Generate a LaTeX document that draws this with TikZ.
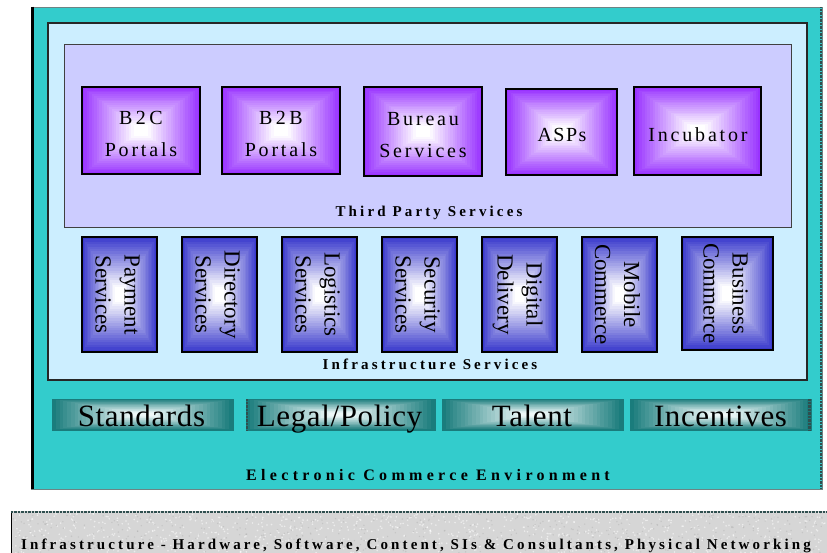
\documentclass[tikz,border=0pt]{standalone}
\usepackage{fontspec}
\setmainfont{Liberation Serif}
\newfontfamily\lsA[LetterSpace=14]{Liberation Serif}
\newfontfamily\lsB[LetterSpace=21]{Liberation Serif}
\newfontfamily\lsE[LetterSpace=20.8]{Liberation Serif}
\newfontfamily\lsC[LetterSpace=27]{Liberation Serif}
\newfontfamily\lsD[LetterSpace=2]{Liberation Serif}
\definecolor{tealbg}{HTML}{33CCCC}
\definecolor{skyb}{HTML}{CCEEFF}
\definecolor{lav}{HTML}{CCCCFF}
\definecolor{purp}{HTML}{9933FF}
\definecolor{blu}{HTML}{3A3ACC}
\definecolor{dteal}{HTML}{1A7C7C}
\definecolor{lteal}{HTML}{EEF8F8}
\definecolor{granite}{HTML}{D6D6D6}
\definecolor{edgegray}{HTML}{2F4F4F}
% #1 name, #2 x1, #3 y1, #4 x2, #5 y2, #6 edge colour, #7 centre colour, #8 style
\newcommand\gbox[8]{%
  \foreach \k in {0,...,23}{%
    \pgfmathsetmacro\ix{\k*(#4-#2)/48}%
    \pgfmathsetmacro\iy{\k*(#5-#3)/48}%
    \pgfmathtruncatemacro\pc{max(0,100-\k*100/21)}%
    \fill[#6!\pc!#7] ({#2+\ix},{#3+\iy}) rectangle ({#4-\ix},{#5-\iy});
  }%
  \pgfmathsetmacro\gw{#4-#2}%
  \pgfmathsetmacro\gh{#5-#3}%
  \node[#8, minimum width=\gw pt, minimum height=\gh pt] (#1) at ({(#2+#4)/2},{(#3+#5)/2}) {};
}
\tikzset{
  bx/.style={draw=black, line width=1.5pt, inner sep=0pt, outer sep=0pt, rectangle},
  tb/.style={draw=dteal, line width=0.6pt, inner sep=0pt, outer sep=0pt, rectangle},
  ptext/.style={font={\lsA\fontsize{20}{32}\selectfont}, align=center, inner sep=0pt},
  vtext/.style={font={\fontsize{23}{29}\selectfont}, align=center, rotate=-90, inner sep=0pt},
  ttext/.style={font={\lsD\fontsize{31}{31}\selectfont}, anchor=base, inner sep=0pt},
  btext/.style={font={\lsB\bfseries\fontsize{15}{15}\selectfont}, anchor=base, inner sep=0pt},
  dots/.style={line width=2.5pt, dash pattern=on 0.7pt off 0.7pt}
}
\begin{document}
\begin{tikzpicture}[x=1pt, y=-1pt]
\useasboundingbox (0,0) rectangle (827,553);
% outer environment
\node[draw=edgegray!70, fill=tealbg, line width=0.8pt, inner sep=0pt, minimum width=791pt, minimum height=482pt] (env) at (426.5,248) {};
\draw[black, line width=3pt] (env.north west) ++(1.5,0) -- ++(0,482);
\draw[edgegray, dots] (820.8,7.5) -- (820.8,489);
% infrastructure services panel
\node[draw=black!85, fill=skyb, line width=1.4pt, inner sep=0pt, minimum width=759pt, minimum height=357pt] (infra) at (427.5,201.5) {};
% third party panel
\node[draw=black!75, fill=lav, line width=1pt, inner sep=0pt, minimum width=727pt, minimum height=183pt] (third) at (427.5,136.5) {};
% third party boxes
\gbox{b2c}{82}{87}{200}{174}{purp}{white}{bx}
\gbox{b2b}{222}{87}{340}{174}{purp}{white}{bx}
\gbox{bur}{364}{87}{482}{176}{purp}{white}{bx}
\gbox{asp}{506}{89}{617}{175}{purp}{white}{bx}
\gbox{inc}{634}{87}{761}{175}{purp}{white}{bx}
\node[ptext] (b2ct) at (141,134.4) {B\kern3.5pt2\kern3.5ptC\\Portals};
\node[ptext] (b2bt) at (281,134.4) {B\kern3.5pt2\kern3.5ptB\\Portals};
\node[ptext] (burt) at (423,135.5) {Bureau\\Services};
\node[ptext, anchor=base] (aspt) at (562,141.5) {A\kern1.5ptS\kern1.5ptP\kern1.5pts};
\node[ptext, anchor=base] (inct) at (698,141.5) {Incubator};
\node[btext] (thirdl) at (429,216.5) {Third Party Services};
% infrastructure boxes
\gbox{pay}{82}{237}{157}{352}{blu}{white}{bx}
\gbox{dir}{182}{237}{257}{352}{blu}{white}{bx}
\gbox{log}{282}{237}{357}{352}{blu}{white}{bx}
\gbox{sec}{382}{237}{457}{352}{blu}{white}{bx}
\gbox{dig}{482}{237}{557}{352}{blu}{white}{bx}
\gbox{mob}{582}{237}{657}{352}{blu}{white}{bx}
\gbox{bus}{682}{237}{773}{350}{blu}{white}{bx}
\node[vtext] (payt) at (117.5,294.5) {Payment\\Services};
\node[vtext] (dirt) at (217.5,294.5) {Directory\\Services};
\node[vtext] (logt) at (317.5,294.5) {Logistics\\Services};
\node[vtext] (sect) at (417.5,294.5) {Security\\Services};
\node[vtext] (digt) at (517.5,294.5) {Digital\\Delivery};
\node[vtext] (mobt) at (617.5,294.5) {Mobile\\Commerce};
\node[vtext] (bust) at (725.5,293.5) {Business\\Commerce};
\node[btext] (infral) at (430,369) {Infrastructure Services};
% environment factors
\gbox{std}{52}{399}{233}{430}{dteal}{lteal}{tb}
\gbox{leg}{246}{399}{435}{430}{dteal}{lteal}{tb}
\gbox{tal}{442}{399}{623}{430}{dteal}{lteal}{tb}
\gbox{ince}{630}{399}{811}{430}{dteal}{lteal}{tb}
\draw[edgegray, dots, line width=2pt] ([xshift=1pt]leg.north west) -- ([xshift=1pt]leg.south west);
\draw[edgegray, dots, line width=2.5pt] ([xshift=-1.3pt]ince.north east) -- ([xshift=-1.3pt]ince.south east);
\node[ttext] (stdt) at (141.5,426) {Standards};
\node[ttext] (legt) at (339.5,426) {Legal/Policy};
\node[ttext] (talt) at (532,426) {Talent};
\node[ttext] (incet) at (720.5,426) {Incentives};
\node[btext, font={\lsC\bfseries\fontsize{16}{16}\selectfont}] (envl) at (428,480) {Electronic Commerce Environment};
% physical infrastructure
\node[fill=granite, inner sep=0pt, minimum width=816pt, minimum height=42pt] (phys) at (419,532) {};
\begin{scope}
\clip (phys.north west) rectangle (phys.south east);
\pgfmathsetseed{11}
\foreach \i in {1,...,900}{%
  \pgfmathsetmacro\rx{11+816*rnd}%
  \pgfmathsetmacro\ry{511+42*rnd}%
  \fill[white, opacity=0.55] (\rx,\ry) circle (0.9pt);
}
\foreach \i in {1,...,500}{%
  \pgfmathsetmacro\rx{11+816*rnd}%
  \pgfmathsetmacro\ry{511+42*rnd}%
  \fill[black!35, opacity=0.35] (\rx,\ry) circle (0.8pt);
}
\end{scope}
\draw[black, line width=1.5pt] ([xshift=0.75pt]phys.north west) -- ([xshift=0.75pt]phys.south west);
\draw[edgegray, dots, line width=2pt] ([yshift=-1pt]phys.north west) -- ([yshift=-1pt]phys.north east);
\node[btext, anchor=base west, font={\lsE\bfseries\fontsize{15}{15}\selectfont}] (physl) at (21,549) {Infrastructure - Hardware, Software, Content, SIs \& Consultants, Physical Networking};
\end{tikzpicture}
\end{document}
